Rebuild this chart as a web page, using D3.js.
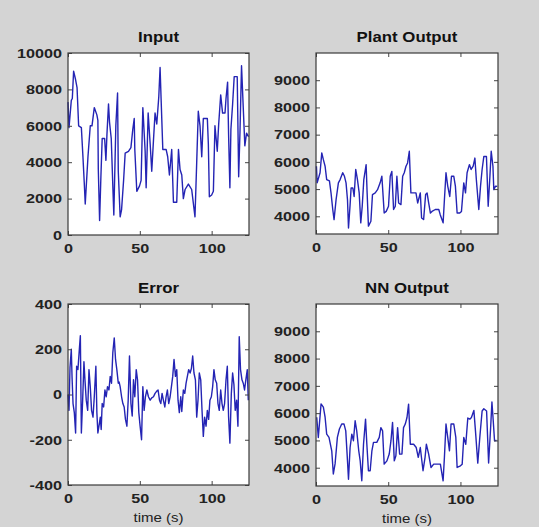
<!DOCTYPE html>
<html><head><meta charset="utf-8">
<script src="https://cdn.jsdelivr.net/npm/d3@7"></script>
<style>html,body{margin:0;padding:0;background:#d4d4d4;}svg{display:block;}</style>
</head><body>
<svg id="c" width="539" height="527"></svg>
<script>
// ---- data ----
const inputT = [0,0.7,2.3,3.0,3.9,5.1,6.3,7.4,9.3,10.4,11.3,12.0,13.9,15.5,16.7,18.3,20.1,20.8,21.1,22.0,22.9,23.8,25.5,26.4,27.1,28.2,28.9,30.1,31.2,31.9,33.3,34.5,35.0,36.3,37.3,38.7,39.8,42.1,43.8,45.1,46.1,46.5,47.9,49.8,50.9,52.1,53.7,54.4,55.8,57.2,58.3,59.5,60.6,61.8,63.2,64.1,64.8,66.0,68.3,69.4,70.6,72.2,73.4,75.7,76.9,78.0,79.2,80.3,81.5,83.8,86.1,88.4,89.6,90.7,91.9,93.1,94.2,97.0,97.7,98.4,100.0,101.2,102.3,103.9,104.9,106.3,107.6,109.3,110.0,111.1,111.8,112.7,113.4,114.6,115.7,117.8,118.8,119.7,120.8,122.0,123.1,124.3,125.7];
const inputV = [7300,5900,7400,7500,9000,8600,8100,6000,5900,4300,2900,1700,4300,6000,6000,7000,6600,6300,3600,800,3200,5300,5300,4100,5500,7200,6200,5300,2700,1100,6000,7800,3500,1000,1400,3000,4500,4600,4800,5800,6400,4700,2400,2700,3000,7000,4600,2600,6700,5000,3500,5200,6700,6100,7600,9200,7500,4700,4700,4300,3300,4700,1800,1800,4700,3600,3300,2000,2500,2800,2500,1000,4000,6800,6000,4300,6400,6400,5000,2100,2200,2400,6000,4600,6100,7700,6700,6700,7500,8400,5500,2600,5800,7200,8700,8700,3200,5600,9300,7000,4900,5600,5400];

const plantT = [0.3,0.8,2.8,4.0,5.1,6.3,7.4,9.3,10.4,11.6,12.5,13.9,15.5,16.7,18.5,19.7,20.8,21.8,22.5,23.6,24.3,25.5,26.4,27.5,28.7,29.9,31.0,32.0,33.1,34.7,35.4,36.3,38.0,39.1,41.0,42.6,44.4,45.6,47.2,48.6,50.2,51.4,52.5,53.7,54.9,56.0,57.2,58.8,60.0,61.1,62.3,63.4,64.6,65.7,67.6,69.2,70.4,72.2,73.1,74.5,75.9,76.9,78.0,79.2,80.3,82.6,85.0,86.0,88.0,88.9,90.0,91.2,92.6,93.8,95.4,96.5,97.7,99.5,100.7,102.3,103.5,104.6,106.2,107.4,108.8,110.0,111.0,112.7,113.9,115.0,116.2,118.0,119.2,120.4,121.3,122.5,123.1,124.3,125.5];
const plantV = [5840,5230,5600,6330,6080,5840,5350,5300,4860,4250,3880,4610,5230,5350,5600,5470,5230,4610,3570,4420,5040,5040,4730,5720,5350,4860,3760,4370,5350,5900,4860,3640,3820,4800,4860,4980,5230,5470,4120,4180,4370,5470,5650,4250,4370,5470,4490,4430,5470,5600,5840,5960,6390,4860,4860,4860,4490,4860,3940,3880,4800,4860,4490,4120,4180,4250,4250,4060,3760,4610,5600,5110,4730,5470,5470,5110,4120,4120,4180,5230,4860,5600,5900,5720,5840,6140,5350,4250,5110,5720,6200,6200,4370,5470,6390,5840,4980,5110,5100];

const errorT = [0,0.7,1.4,2.3,2.8,3.5,4.4,5.3,6.0,6.9,7.9,8.6,9.3,10.2,11.1,11.8,12.7,13.7,14.6,15.5,16.4,17.4,18.3,19.4,20.1,20.8,21.8,22.5,23.1,23.8,24.8,25.7,26.6,27.5,28.5,29.4,30.3,31.2,32.2,33.1,34.0,35.0,35.6,36.3,37.3,38.2,39.1,40.0,41.0,41.9,42.8,43.8,44.7,45.6,46.5,47.5,48.4,49.3,50.2,51.2,52.1,53.0,53.9,54.9,56.0,57.2,58.3,59.5,60.6,61.8,62.7,63.7,64.6,65.5,66.4,67.4,68.3,69.2,70.1,71.1,72.0,72.9,73.8,74.8,75.7,76.6,77.5,78.5,79.2,80.3,81.3,82.2,83.1,84.0,85.0,85.9,86.8,87.7,88.7,89.6,90.5,91.4,92.4,93.3,94.2,95.1,96.1,97.0,97.9,98.8,99.8,100.7,101.6,102.5,103.5,104.4,105.3,106.3,107.2,108.1,109.0,110.0,110.9,111.8,112.7,113.7,114.6,115.5,116.4,117.4,118.3,119.2,120.1,121.1,122.0,122.9,123.8,124.8,125.5];
const errorV = [0,-70,120,200,80,-40,-80,-170,125,110,200,260,-170,-25,145,65,-25,-70,110,35,-70,-100,-10,125,-80,-170,-130,-100,-155,-40,-55,20,-10,35,20,80,50,185,250,155,110,50,55,35,-10,-40,-55,-110,-140,-25,170,-40,-95,65,-10,110,65,-80,-140,-200,35,-70,-10,20,-10,-25,-15,-10,5,15,20,-25,-40,5,-25,-55,-10,20,-40,-10,35,80,155,80,110,-25,-80,-10,-75,20,5,50,80,110,95,115,170,95,65,-100,-25,95,65,-70,-185,-100,-140,-70,-110,-25,-10,35,110,65,50,-40,-70,20,-40,-70,-40,65,125,-100,-215,5,95,45,-70,-25,-140,255,110,65,50,20,65,110,-25];

const nnT = [0.5,1.6,3.5,5.1,6.3,7.4,9.0,10.9,12.0,13.2,14.8,16.2,17.8,19.4,20.6,21.8,22.5,23.6,24.8,25.9,27.1,28.2,29.6,30.6,31.7,32.9,34.3,35.2,36.3,37.5,38.7,39.8,42.1,43.8,44.9,46.1,47.2,49.1,50.7,51.9,53.0,54.2,55.3,56.5,57.9,59.5,60.6,61.8,63.0,64.1,65.3,67.6,69.4,70.8,72.2,74.1,75.5,76.4,78.0,79.6,81.5,83.8,86.1,88.0,88.9,90.0,91.2,92.4,93.5,95.4,96.8,97.7,100.0,101.2,102.3,103.7,105.1,106.5,107.6,109.3,110.4,112.0,113.4,115.0,116.2,118.1,119.5,120.9,121.8,122.7,123.6,125.0];
const nnV = [5850,5110,6340,6220,5850,5230,5110,4620,3770,4140,5110,5420,5600,5600,5350,4250,3580,4740,5230,4990,5720,5350,4620,4250,3520,4860,5780,4860,3890,3890,4620,4930,4930,5110,5470,5350,4130,4250,4500,4990,5660,4250,4440,5470,4500,4500,5470,5600,5840,6330,4860,4860,4740,4380,4740,3890,4380,4860,4500,4010,4130,4130,4130,3520,4380,5600,5110,4620,5600,5600,5110,4010,4070,4130,5110,4860,5820,5780,5840,6100,5350,4170,5110,6080,6160,6080,4170,5470,6410,5720,4990,5000];

const titles = ["Input","Plant Output","Error","NN Output"];
const xTicks = [0,50,100];
const inputTicks = [0,2000,4000,6000,8000,10000];
const outTicks = [4000,5000,6000,7000,8000,9000];
const errTicks = [-400,-200,0,200,400];
const xLabel = "time (s)";

// ---- drawing ----
const SX = 1.2; // horizontal stretch of the text in the reference
const svg = d3.select("#c");
svg.append("rect").attr("width",539).attr("height",527).attr("fill","#d4d4d4");

const panels = [
  {t:inputT, v:inputV, title:titles[0], left:68, top:53, w:181, h:182, yd:[0,10000], yt:inputTicks, xl:false},
  {t:plantT, v:plantV, title:titles[1], left:316, top:53, w:182, h:181, yd:[3350,10000], yt:outTicks, xl:false},
  {t:errorT, v:errorV, title:titles[2], left:68, top:304, w:181, h:181, yd:[-400,400], yt:errTicks, xl:true},
  {t:nnT, v:nnV, title:titles[3], left:316, top:304, w:182, h:182, yd:[3330,10000], yt:outTicks, xl:true}
];

const font = "'Liberation Sans', Arial, sans-serif";
const fmt = d => String(d);

function stretchText(sel, x, y) {
  sel.attr("x", x / SX).attr("y", y).attr("transform", `scale(${SX},1)`);
}

panels.forEach(p => {
  const g = svg.append("g").attr("transform",`translate(${p.left},${p.top})`);
  const x = d3.scaleLinear().domain([0,126]).range([0,p.w]);
  const y = d3.scaleLinear().domain(p.yd).range([p.h,0]);
  g.append("rect").attr("width",p.w).attr("height",p.h).attr("fill","#fff");

  const data = p.t.map((t,i)=>[t,p.v[i]]);
  g.append("path").datum(data)
    .attr("fill","none").attr("stroke","#2424b4").attr("stroke-width",1.4)
    .attr("stroke-linejoin","round")
    .attr("d", d3.line().x(d=>x(d[0])).y(d=>y(d[1])));

  const styleAxis = (sel) => {
    sel.select(".domain").remove();
    sel.selectAll(".tick line").attr("stroke","#444");
    sel.selectAll(".tick text").attr("fill","#222").attr("font-size","13.5px")
      .attr("font-weight","bold").attr("font-family",font)
      .each(function(){
        const t = d3.select(this);
        const xx = +t.attr("x") || 0;
        t.attr("x", xx / SX).attr("transform", `scale(${SX},1)`);
      });
  };
  // bottom
  g.append("g").attr("transform",`translate(0,${p.h})`)
    .call(d3.axisBottom(x).tickValues(xTicks).tickSize(-4).tickPadding(8).tickFormat(fmt))
    .call(styleAxis);
  // top (mirror ticks)
  g.append("g").call(d3.axisTop(x).tickValues(xTicks).tickSize(-4).tickFormat(""))
    .call(styleAxis);
  // left
  g.append("g").call(d3.axisLeft(y).tickValues(p.yt).tickSize(-4).tickPadding(6).tickFormat(fmt))
    .call(styleAxis);
  // right (mirror)
  g.append("g").attr("transform",`translate(${p.w},0)`)
    .call(d3.axisRight(y).tickValues(p.yt).tickSize(-4).tickFormat(""))
    .call(styleAxis);

  g.append("rect").attr("width",p.w).attr("height",p.h).attr("fill","none")
    .attr("stroke","#3a3a3a").attr("stroke-width",1.2);

  g.append("text").attr("text-anchor","middle")
    .attr("font-family",font).attr("font-weight","bold").attr("font-size","14px")
    .attr("fill","#111").text(p.title)
    .call(stretchText, p.w/2, -11);

  if (p.xl) {
    g.append("text").attr("text-anchor","middle")
      .attr("font-family",font).attr("font-size","12.5px").attr("fill","#222").text(xLabel)
      .call(stretchText, p.w/2, p.h+37);
  }
});
</script>
</body></html>
